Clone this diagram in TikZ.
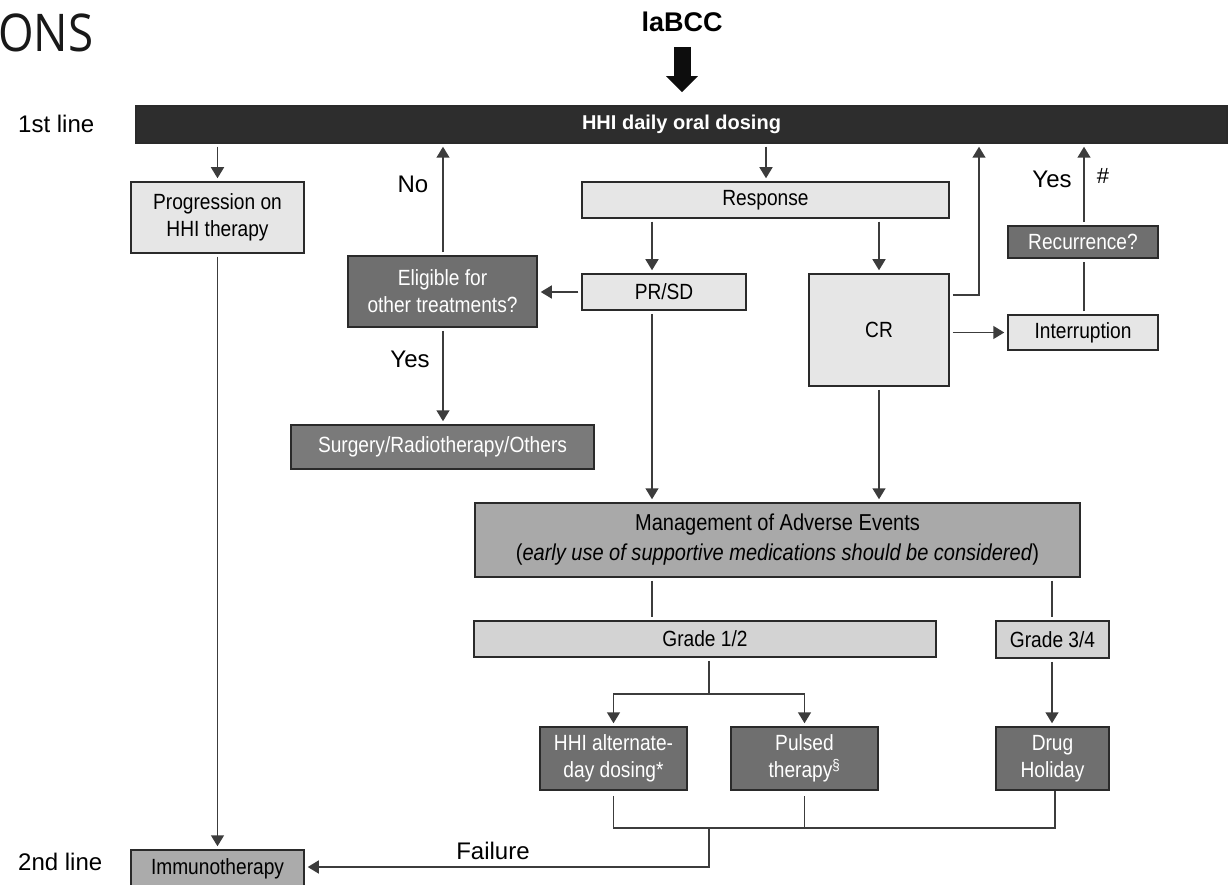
\documentclass[tikz,border=0pt]{standalone}
\usepackage{fontspec}
\setmainfont{Liberation Sans}
\newfontfamily\condfont[FakeStretch=0.87]{Liberation Sans}
\newfontfamily\onsfont[FakeStretch=0.88]{Open Sans}
\usetikzlibrary{arrows.meta,calc}
\definecolor{barfill}{HTML}{2D2D2D}
\definecolor{lightfill}{HTML}{E6E6E6}
\definecolor{darkfill}{HTML}{6F6F6F}
\definecolor{surgfill}{HTML}{7A7A7A}
\definecolor{midfill}{HTML}{A9A9A9}
\definecolor{gradefill}{HTML}{D3D3D3}
\definecolor{immfill}{HTML}{ABABAB}
\definecolor{linecol}{HTML}{3C3C3C}
\definecolor{edgecol}{HTML}{2A2A2A}
\tikzset{
  box/.style={draw=edgecol, line width=1.5pt, inner sep=0pt, align=center,
    font=\condfont\fontsize{22}{27}\selectfont},
  lightbox/.style={box, fill=lightfill, text=black},
  darkbox/.style={box, fill=darkfill, text=white},
  conn/.style={draw=linecol, line width=1.5pt},
  arr/.style={conn, -{Triangle[length=11pt,width=13pt]}, shorten >=3pt},
  gap/.style={shorten <=3pt},
  lbl/.style={font=\fontsize{24}{28}\selectfont, inner sep=0pt, anchor=base},
}
\begin{document}
\begin{tikzpicture}[x=1pt,y=-1pt]
\useasboundingbox (0,0) rectangle (1231,885);
\fill[white] (0,0) rectangle (1231,885);

% title fragments
\node[anchor=base west, font=\onsfont\fontsize{52}{60}\selectfont, inner sep=0pt, text=black!90] (ons) at (-2,52) {ONS};
\node[anchor=base, font=\bfseries\fontsize{27}{30}\selectfont, inner sep=0pt] (labcc) at (682,32) {laBCC};

% first line bar
\node[box, fill=barfill, text=white, font=\bfseries\fontsize{20}{24}\selectfont,
      minimum width=1091pt, minimum height=37pt] (bar) at (681.5,124.5) {HHI daily oral dosing};
\draw[line width=17pt, draw=black!95, -{Triangle[length=16pt,width=31pt]}, shorten <=15pt, shorten >=13pt]
  (labcc.base) -- (labcc.base |- bar.north);

% boxes
\node[lightbox, minimum width=173pt, minimum height=71pt] (prog) at (217.5,217.5) {Progression on\\HHI therapy};
\node[lightbox, minimum width=367pt, minimum height=36pt] (resp) at (765.5,200) {Response};
\node[lightbox, minimum width=164pt, minimum height=36pt] (prsd) at (664,292) {PR/SD};
\node[darkbox, minimum width=189pt, minimum height=71pt] (elig) at (442.5,291.5) {Eligible for\\other treatments?};
\node[box, fill=surgfill, text=white, minimum width=303pt, minimum height=44pt] (surg) at (442.5,447) {Surgery/Radiotherapy/Others};
\node[lightbox, minimum width=140pt, minimum height=112pt] (cr) at (879,330) {CR};
\node[lightbox, minimum width=150pt, minimum height=35pt] (interr) at (1083,332.5) {Interruption};
\node[darkbox, minimum width=150pt, minimum height=32pt] (recur) at (1083,242) {Recurrence?};
\node[box, fill=midfill, text=black, minimum width=605pt, minimum height=74pt,
      font=\condfont\fontsize{23}{30}\selectfont] (mgmt) at (777.5,540)
      {Management of Adverse Events\\(\textit{early use of supportive medications should be considered})};
\node[box, fill=gradefill, text=black, minimum width=462pt, minimum height=36pt] (g12) at (705,639) {Grade 1/2};
\node[box, fill=gradefill, text=black, minimum width=113pt, minimum height=37pt] (g34) at (1052.5,639.5) {Grade 3/4};
\node[darkbox, minimum width=147pt, minimum height=63pt] (hhialt) at (613.5,758.5) {HHI alternate-\\day dosing*};
\node[darkbox, minimum width=147pt, minimum height=63pt] (pulsed) at (804.5,758.5) {Pulsed\\therapy\textsuperscript{§}};
\node[darkbox, minimum width=113pt, minimum height=63pt] (drug) at (1052.5,758.5) {Drug\\Holiday};
\node[box, fill=immfill, text=black, minimum width=173pt, minimum height=37pt] (immuno) at (217.5,868.5) {Immunotherapy};

% labels
\node[lbl, anchor=base west] (l1) at (18,133) {1st line};
\node[lbl, anchor=base west] (l2) at (18,870) {2nd line};
\node[lbl] (no) at (413,193) {No};
\node[lbl] (yes1) at (410,367) {Yes};
\node[lbl] (yes2) at (1052,188) {Yes};
\node[lbl, font=\fontsize{22}{24}\selectfont] (hash) at (1103,184) {\#};
\node[lbl] (fail) at (493,859) {Failure};

% column coordinates
\coordinate (xA) at (652,0);
\coordinate (xC) at (979,0);
\coordinate (xD) at (1084,0);
\coordinate (xE) at (443,0);
\coordinate (xF) at (766,0);
\coordinate (xH) at (1052,0);
\coordinate (fork) at (709,694);
\coordinate (join) at (709,828);
\coordinate (failrow) at (709,867);

% connectors
\draw[arr, gap] (prog.north |- bar.south) -- (prog.north);
\draw[arr, gap] (xF |- bar.south) -- (xF |- resp.north);
\draw[arr, gap] (xA |- resp.south) -- (xA |- prsd.north);
\draw[arr, gap] (cr.north |- resp.south) -- (cr.north);
\draw[arr, gap] (prsd.west) -- (elig.east |- prsd.west);
\draw[arr, gap] (xE |- elig.north) -- (xE |- bar.south);
\draw[arr, gap] (xE |- elig.south) -- (xE |- surg.north);
\draw[arr, gap] (xA |- prsd.south) -- (xA |- mgmt.north);
\draw[arr, gap] (cr.south) -- (cr.south |- mgmt.north);
\draw[arr, gap] ([yshift=35pt]cr.east) -| (xC |- bar.south);
\draw[arr, gap] (cr.east |- interr.west) -- (interr.west);
\draw[conn, gap, shorten >=3pt] (xD |- interr.north) -- (xD |- recur.south);
\draw[arr, gap] (xD |- recur.north) -- (xD |- bar.south);
\draw[conn, gap, shorten >=3pt] (xA |- mgmt.south) -- (xA |- g12.north);
\draw[conn, gap, shorten >=3pt] (xH |- mgmt.south) -- (xH |- g34.north);
\draw[conn, gap] (fork |- g12.south) -- (fork);
\draw[arr] (fork) -| (hhialt.north);
\draw[arr] (fork) -| (pulsed.north);
\draw[arr, gap] (xH |- g34.south) -- (xH |- drug.north);
\draw[conn, shorten <=5pt] (hhialt.south) |- (join);
\draw[conn] (join) -| ([xshift=2.5pt]drug.south);
\draw[conn, shorten >=5pt] (join -| pulsed.south) -- (pulsed.south);
\draw[conn, shorten >=5pt] (join -| drug.south) ++(2.5,0) -- ([xshift=2.5pt]drug.south);
\draw[arr] (join) -- (failrow) -- (failrow -| immuno.east);
\draw[arr, gap] (prog.south) -- (immuno.north);
\end{tikzpicture}
\end{document}
